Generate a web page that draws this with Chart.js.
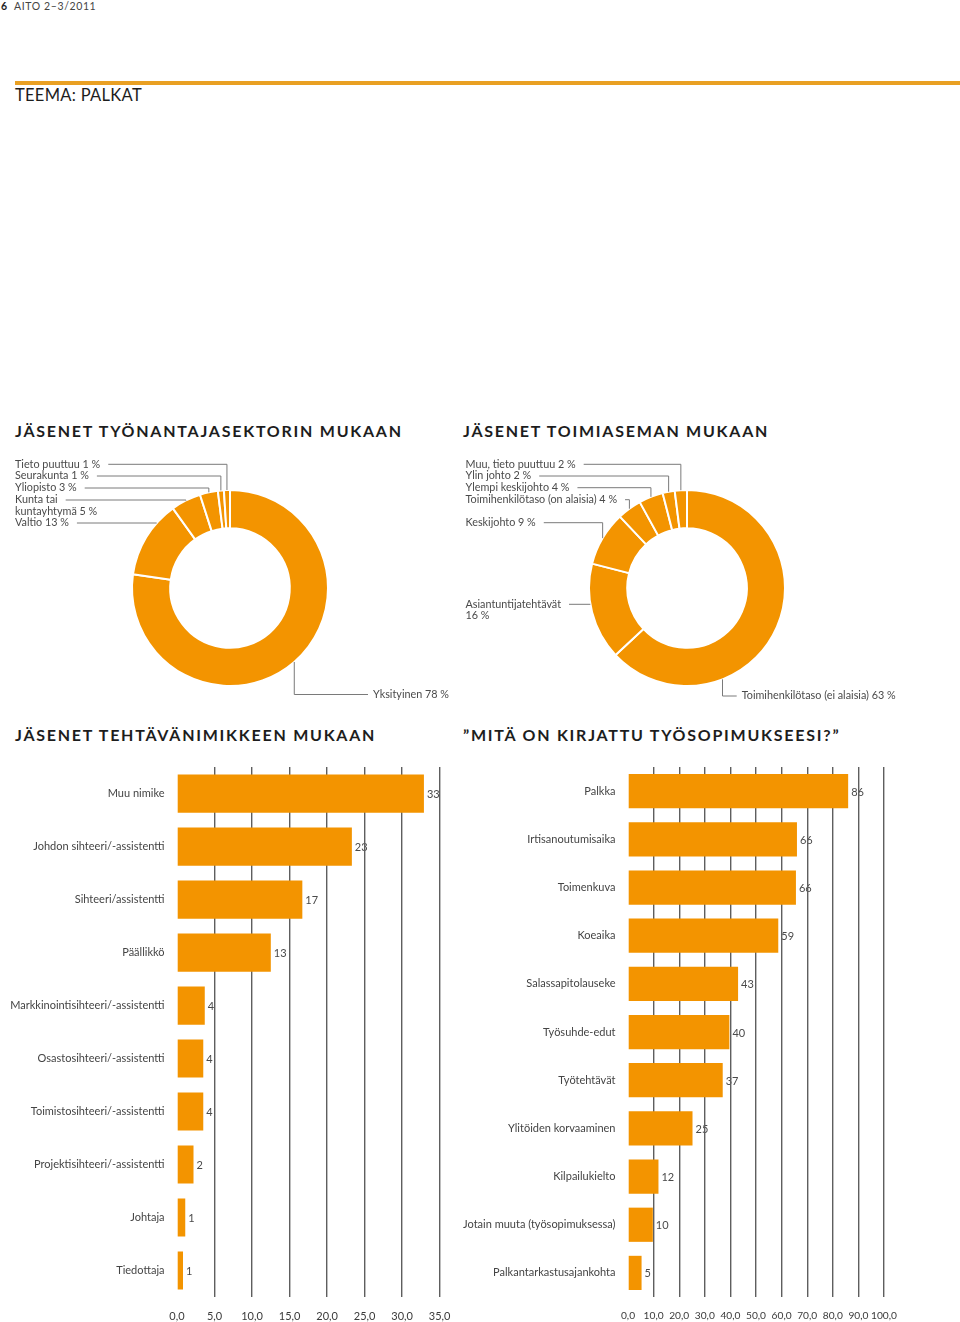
<!DOCTYPE html>
<html lang="fi">
<head>
<meta charset="utf-8">
<title>Teema: palkat</title>
<script src="https://cdn.jsdelivr.net/npm/chart.js@4.4.1/dist/chart.umd.min.js"></script>
<style>
  html, body { margin: 0; padding: 0; background: #fff; }
  body { width: 960px; height: 1322px; position: relative; overflow: hidden; font-family: Lato, "Open Sans", sans-serif; color: #1d1d1d; }
  .abs { position: absolute; white-space: nowrap; }
  #pageno { left: 1px; top: 0; font-size: 10.5px; line-height: 13px; }
  #pageno b { margin-right: 7px; }
  #pageno span { color: #444; letter-spacing: 0.6px; }
  #rule { left: 15px; top: 81px; width: 945px; height: 4px; background: #e9a023; }
  #teema { left: 15px; top: 85px; font-size: 16.5px; line-height: 20px; letter-spacing: 0.3px; }
  .title { font-size: 16px; line-height: 18px; font-weight: 700; letter-spacing: 1.75px; }
  canvas { position: absolute; }
</style>
</head>
<body>
<div id="pageno" class="abs"><b>6</b><span>AITO 2–3/2011</span></div>
<div id="rule" class="abs"></div>
<div id="teema" class="abs">TEEMA: PALKAT</div>

<div class="abs title" style="left:15px; top:422px;">JÄSENET TYÖNANTAJASEKTORIN MUKAAN</div>
<div class="abs title" style="left:463px; top:422px;">JÄSENET TOIMIASEMAN MUKAAN</div>
<div class="abs title" style="left:15px; top:726px;">JÄSENET TEHTÄVÄNIMIKKEEN MUKAAN</div>
<div class="abs title" style="left:463px; top:726px;">”MITÄ ON KIRJATTU TYÖSOPIMUKSEESI?”</div>

<canvas id="sektori" width="460" height="250" style="left:0; top:455px;"></canvas>
<canvas id="toimiasema" width="500" height="250" style="left:460px; top:455px;"></canvas>
<canvas id="sopimus" width="500" height="574" style="left:460px; top:748px;"></canvas>
<canvas id="nimike" width="463" height="574" style="left:0; top:748px;"></canvas>

<script>
// jäsenet työnantajasektorin mukaan (%)
const sektoriLabels = ["Yksityinen", "Valtio", ["Kunta tai", "kuntayhtymä"], "Yliopisto", "Seurakunta", "Tieto puuttuu"];
const sektoriValues = [78, 13, 5, 3, 1, 1];

// jäsenet toimiaseman mukaan (%)
const asemaLabels = ["Toimihenkilötaso (ei alaisia)", ["Asiantuntijatehtävät", ""], "Keskijohto",
    "Toimihenkilötaso (on alaisia)", "Ylempi keskijohto", "Ylin johto", "Muu, tieto puuttuu"];
const asemaValues = [63, 16, 9, 4, 4, 2, 2];

// jäsenet tehtävänimikkeen mukaan
const nimikeLabels = ["Muu nimike", "Johdon sihteeri/-assistentti", "Sihteeri/assistentti", "Päällikkö",
    "Markkinointisihteeri/-assistentti", "Osastosihteeri/-assistentti", "Toimistosihteeri/-assistentti",
    "Projektisihteeri/-assistentti", "Johtaja", "Tiedottaja"];
const nimikeValues = [32.9, 23.3, 16.7, 12.5, 3.7, 3.5, 3.5, 2.2, 1.1, 0.8];
const nimikeTicks = [0, 5, 10, 15, 20, 25, 30, 35];

// mitä on kirjattu työsopimukseesi
const sopimusLabels = ["Palkka", "Irtisanoutumisaika", "Toimenkuva", "Koeaika", "Salassapitolauseke",
    "Työsuhde-edut", "Työtehtävät", "Ylitöiden korvaaminen", "Kilpailukielto",
    "Jotain muuta (työsopimuksessa)", "Palkantarkastusajankohta"];
const sopimusValues = [86, 66, 65.6, 58.7, 43, 39.6, 37, 25.2, 11.9, 9.7, 5.3];
const sopimusTicks = [0, 10, 20, 30, 40, 50, 60, 70, 80, 90, 100];

const ORANGE = "#f39400";
const FONT = "Lato";

Chart.defaults.font.family = FONT;
Chart.defaults.font.size = 11;
Chart.defaults.color = "#444";
Chart.defaults.animation = false;

function calloutLines(label, value) {
    var lines = Array.isArray(label) ? label.slice() : [label];
    var last = lines[lines.length - 1];
    lines[lines.length - 1] = (last ? last + " " : "") + value + " %";
    return lines;
}

// leader lines + texts around a doughnut; layout is kept in the closure
function calloutPlugin(layout) {
    return {
        id: "callouts",
        afterDraw(chart) {
            const ctx = chart.ctx;
            const meta = chart.getDatasetMeta(0);
            const values = chart.data.datasets[0].data;
            ctx.save();
            ctx.font = "10.8px " + FONT;
            ctx.textBaseline = "middle";
            ctx.lineWidth = 1;
            ctx.strokeStyle = "#7a7a7a";
            meta.data.forEach(function (arc, i) {
                const pos = layout[i];
                if (!pos) return;
                const lines = calloutLines(chart.data.labels[i], values[i]);
                ctx.fillStyle = "#4a4a4a";
                ctx.textAlign = "left";
                lines.forEach(function (line, k) {
                    ctx.fillText(line, pos.x, pos.y + k * 11.6);
                });
                const R = arc.outerRadius;
                const at = typeof pos.at === "number" ? pos.at : 0.5;
                const a = arc.startAngle + (arc.endAngle - arc.startAngle) * at;
                const px = arc.x + R * Math.cos(a), py = arc.y + R * Math.sin(a);
                const textEnd = pos.x + ctx.measureText(lines[0]).width + 8;
                ctx.beginPath();
                if (pos.mode === "below") {
                    ctx.moveTo(px, py);
                    ctx.lineTo(px, pos.y);
                    ctx.lineTo(pos.x - 5, pos.y);
                } else if (pos.mode === "h") {
                    const dy = pos.y - arc.y;
                    const hx = arc.x - Math.sqrt(Math.max(R * R - dy * dy, 0));
                    ctx.moveTo(textEnd, pos.y);
                    ctx.lineTo(hx, pos.y);
                } else {
                    ctx.moveTo(textEnd, pos.y);
                    ctx.lineTo(px, pos.y);
                    ctx.lineTo(px, py);
                }
                ctx.stroke();
            });
            ctx.restore();
        }
    };
}

function makeDoughnut(id, labels, values, pad, layout) {
    return new Chart(document.getElementById(id), {
        type: "doughnut",
        data: {
            labels: labels,
            datasets: [{
                data: values,
                backgroundColor: ORANGE,
                borderColor: "#ffffff",
                borderWidth: 2
            }]
        },
        options: {
            responsive: false,
            cutout: "61%",
            layout: { padding: pad },
            plugins: {
                legend: { display: false },
                tooltip: { enabled: false }
            }
        },
        plugins: [calloutPlugin(layout)]
    });
}

makeDoughnut("sektori", sektoriLabels, sektoriValues,
    { left: 131, right: 131, top: 34, bottom: 18 },
    [
        { x: 373, y: 239.5, mode: "below" },
        { x: 15, y: 68, mode: "h" },
        { x: 15, y: 45, mode: "elbow" },
        { x: 15, y: 33, mode: "elbow" },
        { x: 15, y: 21, mode: "elbow" },
        { x: 15, y: 9.3, mode: "elbow" }
    ]);

makeDoughnut("toimiasema", asemaLabels, asemaValues,
    { left: 128, right: 174, top: 34, bottom: 18 },
    [
        { x: 281.7, y: 241, mode: "below", at: 0.7 },
        { x: 5.5, y: 149.3, mode: "h" },
        { x: 5.5, y: 67.7, mode: "elbow" },
        { x: 5.5, y: 44.7, mode: "elbow" },
        { x: 5.5, y: 32.7, mode: "elbow" },
        { x: 5.5, y: 21, mode: "elbow" },
        { x: 5.5, y: 9.3, mode: "elbow" }
    ]);

// value labels sit under the grid lines, so draw them first
const valueLabelPlugin = {
    id: "valueLabels",
    beforeDraw(chart) {
        const ctx = chart.ctx;
        const meta = chart.getDatasetMeta(0);
        const values = chart.data.datasets[0].data;
        ctx.save();
        ctx.font = "11px " + FONT;
        ctx.fillStyle = "#4a4a4a";
        ctx.textAlign = "left";
        ctx.textBaseline = "middle";
        meta.data.forEach(function (bar, i) {
            ctx.fillText(String(Math.round(values[i])), bar.x + 3, bar.y + 1);
        });
        ctx.restore();
    }
};

function makeBars(id, labels, values, ticks, axisWidth, padRight, barPct, tickSize) {
    return new Chart(document.getElementById(id), {
        type: "bar",
        data: {
            labels: labels,
            datasets: [{
                data: values,
                backgroundColor: ORANGE,
                borderWidth: 0,
                barPercentage: barPct,
                categoryPercentage: 1
            }]
        },
        options: {
            responsive: false,
            indexAxis: "y",
            layout: { padding: { top: 7, right: padRight, left: 0, bottom: 0 } },
            scales: {
                x: {
                    min: ticks[0],
                    max: ticks[ticks.length - 1],
                    afterBuildTicks: function (scale) {
                        scale.ticks = ticks.map(function (v) { return { value: v }; });
                    },
                    afterFit: function (scale) { scale.height = 25; },
                    grid: {
                        drawTicks: false,
                        lineWidth: 1.4,
                        color: function (c) { return c.tick && c.tick.value === 0 ? "rgba(0,0,0,0)" : "#5e5e5e"; }
                    },
                    border: { display: false },
                    ticks: {
                        padding: 12.5,
                        color: "#3a3a3a",
                        font: { size: tickSize },
                        maxRotation: 0,
                        autoSkip: false,
                        callback: function (v) { return v.toFixed(1).replace(".", ","); }
                    }
                },
                y: {
                    afterFit: function (scale) { scale.width = axisWidth; },
                    grid: { display: false, drawTicks: false },
                    border: { display: false },
                    ticks: { padding: 12.5, color: "#444", autoSkip: false }
                }
            },
            plugins: {
                legend: { display: false },
                tooltip: { enabled: false }
            }
        },
        plugins: [valueLabelPlugin]
    });
}

makeBars("nimike", nimikeLabels, nimikeValues, nimikeTicks, 177, 14, 0.72, 11);
makeBars("sopimus", sopimusLabels, sopimusValues, sopimusTicks, 168, 76, 0.71, 10.2);
</script>
</body>
</html>
